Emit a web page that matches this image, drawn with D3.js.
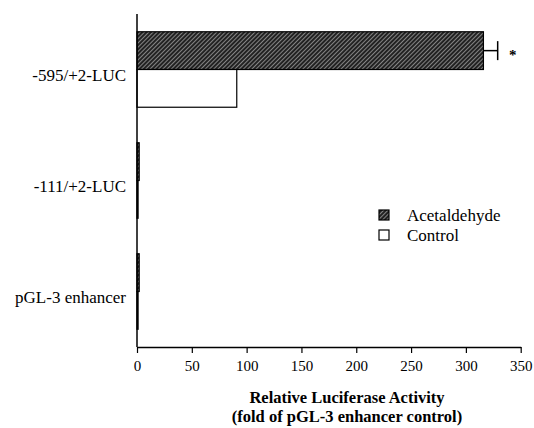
<!DOCTYPE html>
<html>
<head>
<meta charset="utf-8">
<script src="https://cdn.jsdelivr.net/npm/d3@7"></script>
<style>
body { margin: 0; background: #fff; }
text { font-family: "Liberation Serif", "DejaVu Serif", serif; fill: #000; }
</style>
</head>
<body>
<svg id="chart" width="534" height="428"></svg>
<script>
// data
var categories = ["-595/+2-LUC", "-111/+2-LUC", "pGL-3 enhancer"];
var seriesNames = ["Acetaldehyde", "Control"];
var acetaldehyde = [316, 2, 2];
var control = [91, 1, 1];
var acetErr = [13, 0, 0];
var signif = [true, false, false];
var xTicks = [0, 50, 100, 150, 200, 250, 300, 350];

var svg = d3.select("#chart"),
    plotLeft = 137, plotRight = 520.7, plotTop = 14, plotBottom = 347;

var defs = svg.append("defs");
var pat = defs.append("pattern")
    .attr("id", "hatch")
    .attr("patternUnits", "userSpaceOnUse")
    .attr("width", 3).attr("height", 3)
    .attr("patternTransform", "rotate(45)");
pat.append("rect").attr("width", 3).attr("height", 3).attr("fill", "#222");
pat.append("line").attr("x1", 0).attr("y1", 0).attr("x2", 0).attr("y2", 3)
    .attr("stroke", "#e6e6e6").attr("stroke-width", 1);

var x = d3.scaleLinear().domain([0, 350]).range([plotLeft, plotRight]);
var y = d3.scaleBand().domain(categories).range([plotTop, plotBottom])
    .paddingInner(0.32).paddingOuter(0.16);
var sub = d3.scaleBand().domain(seriesNames).range([0, y.bandwidth()]);

var rows = categories.map(function(c, i) {
  return {cat: c, vals: [
    {name: "Acetaldehyde", v: acetaldehyde[i], err: acetErr[i], star: signif[i]},
    {name: "Control", v: control[i], err: 0, star: false}
  ]};
});

var g = svg.append("g");
var grp = g.selectAll("g.cat").data(rows).enter().append("g")
    .attr("class", "cat")
    .attr("transform", function(d) { return "translate(0," + y(d.cat) + ")"; });

grp.selectAll("rect").data(function(d) { return d.vals; }).enter().append("rect")
    .attr("x", x(0))
    .attr("y", function(d) { return sub(d.name); })
    .attr("width", function(d) { return x(d.v) - x(0); })
    .attr("height", sub.bandwidth())
    .attr("fill", function(d) { return d.name == "Acetaldehyde" ? "url(#hatch)" : "#fff"; })
    .attr("stroke", "#000")
    .attr("stroke-width", 1.2);

// error bars
var eb = grp.selectAll("g.err").data(function(d) { return d.vals.filter(function(v) { return v.err > 0; }); })
  .enter().append("g").attr("class", "err");
eb.append("line")
    .attr("x1", function(d) { return x(d.v); })
    .attr("x2", function(d) { return x(d.v + d.err); })
    .attr("y1", function(d) { return sub(d.name) + sub.bandwidth() / 2; })
    .attr("y2", function(d) { return sub(d.name) + sub.bandwidth() / 2; })
    .attr("stroke", "#000").attr("stroke-width", 1.5);
eb.append("line")
    .attr("x1", function(d) { return x(d.v + d.err); })
    .attr("x2", function(d) { return x(d.v + d.err); })
    .attr("y1", function(d) { return sub(d.name) + sub.bandwidth() / 2 - 9.5; })
    .attr("y2", function(d) { return sub(d.name) + sub.bandwidth() / 2 + 9.5; })
    .attr("stroke", "#000").attr("stroke-width", 1.5);
eb.filter(function(d) { return d.star; }).append("text")
    .attr("x", function(d) { return x(d.v + d.err) + 15; })
    .attr("y", function(d) { return sub(d.name) + sub.bandwidth() / 2 + 9; })
    .attr("text-anchor", "middle")
    .style("font-size", "15px").style("font-weight", "bold")
    .text("*");

// y axis line and category labels
svg.append("line").attr("x1", plotLeft).attr("x2", plotLeft).attr("y1", plotTop).attr("y2", plotBottom)
    .attr("stroke", "#000").attr("stroke-width", 1.5);
svg.selectAll("text.cat").data(categories).enter().append("text")
    .attr("class", "cat")
    .attr("x", 126)
    .attr("y", function(d) { return y(d) + y.bandwidth() / 2 + 11; })
    .attr("text-anchor", "end")
    .style("font-size", "17px")
    .text(function(d) { return d; });

// x axis
var xAxis = svg.append("g")
    .attr("transform", "translate(0," + plotBottom + ")")
    .call(d3.axisBottom(x).tickValues(xTicks).tickSize(6).tickPadding(7).tickSizeOuter(0));
xAxis.select(".domain").attr("stroke-width", 1.5);
xAxis.selectAll(".tick line").attr("stroke-width", 1.2);
xAxis.selectAll("text").style("font-size", "15px")
    .style("font-family", "'Liberation Serif', serif");

svg.append("text").attr("x", 347).attr("y", 403).attr("text-anchor", "middle")
    .style("font-size", "16.5px").style("font-weight", "bold")
    .text("Relative Luciferase Activity");
svg.append("text").attr("x", 347).attr("y", 422).attr("text-anchor", "middle")
    .style("font-size", "16.5px").style("font-weight", "bold")
    .text("(fold of pGL-3 enhancer control)");

// legend
var leg = svg.append("g").attr("transform", "translate(379,210)");
var li = leg.selectAll("g").data(seriesNames).enter().append("g")
    .attr("transform", function(d, i) { return "translate(0," + i * 20 + ")"; });
li.append("rect").attr("width", 10).attr("height", 10)
    .attr("fill", function(d) { return d == "Acetaldehyde" ? "url(#hatch)" : "#fff"; })
    .attr("stroke", "#000").attr("stroke-width", 1.2);
li.append("text").attr("x", 28).attr("y", 10.5)
    .style("font-size", "17px")
    .text(function(d) { return d; });
</script>
</body>
</html>
